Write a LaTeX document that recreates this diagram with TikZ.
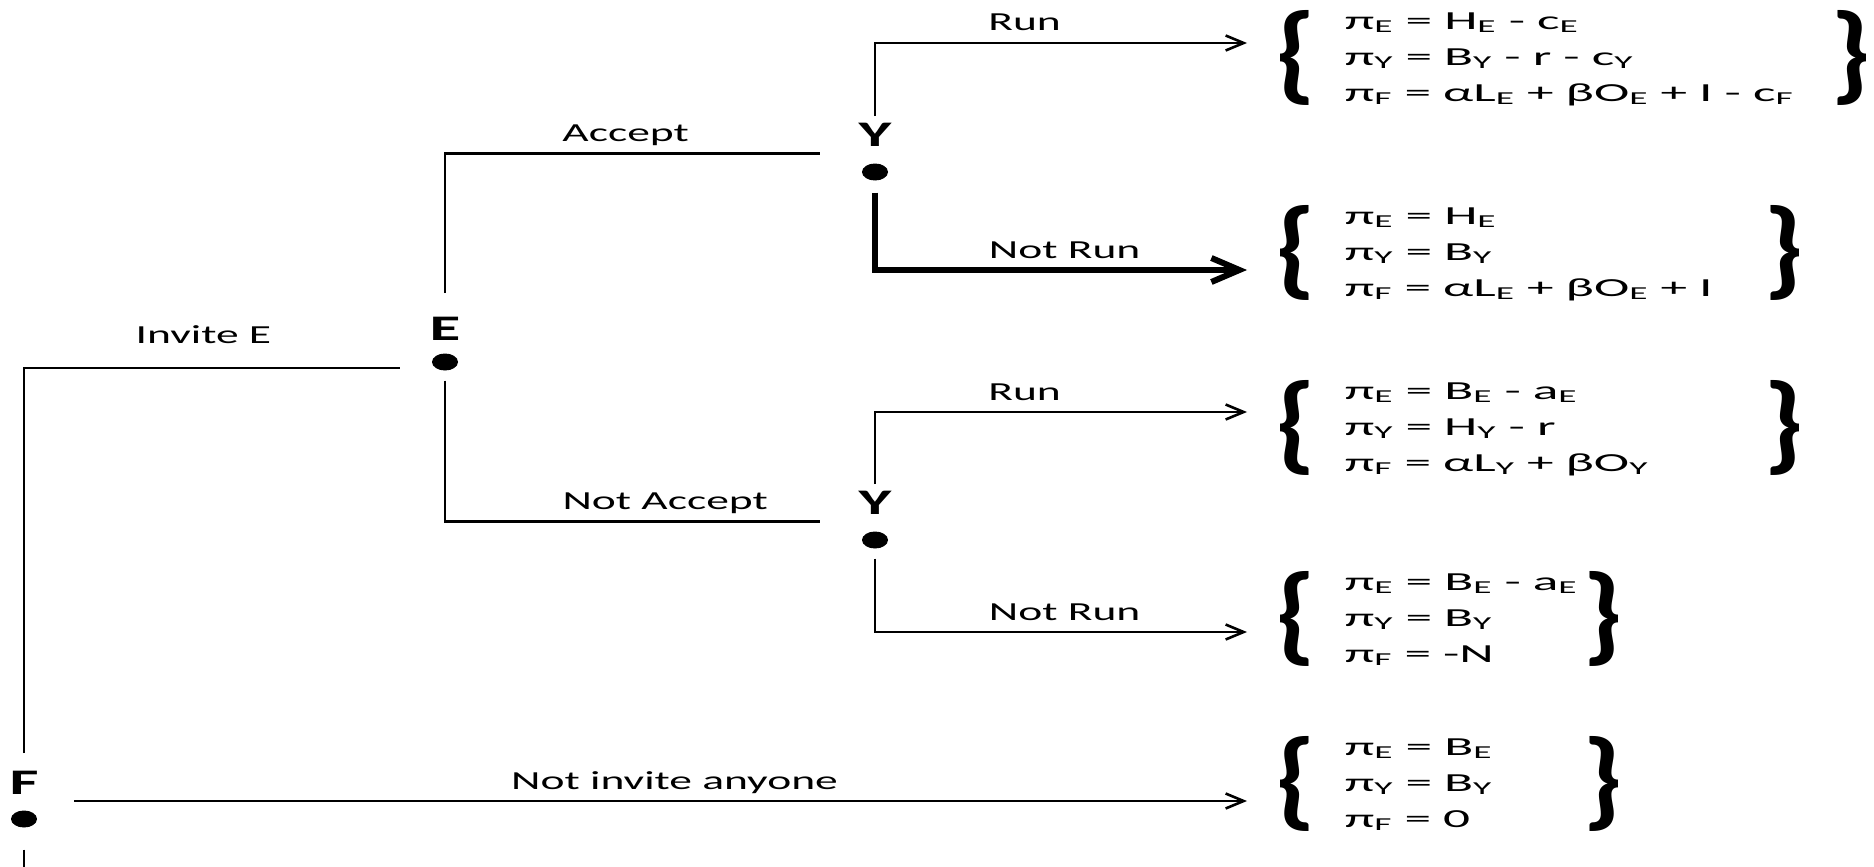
\documentclass[tikz,border=0pt]{standalone}
\usepackage{fontspec}
\usepackage{graphicx}
\setmainfont{Carlito}
\usetikzlibrary{
  arrows.meta,
  shapes.geometric,
  calc
}
\newcommand{\hs}[1]{\scalebox{1.75}[1]{#1}}
\newcommand{\ssc}[1]{\textsubscript{#1}}
\newcommand{\brc}[1]{\vcenter{\hbox{\resizebox*{20pt}{95pt}{\bfseries#1}}}}
\newcommand{\payoff}[4]{\scalebox{2.05}[1]{$\brc{\{}\begin{tabular}{@{\hspace{14pt}}p{#1}@{}}#2\\#3\\#4\end{tabular}\brc{\}}$}}

\begin{document}
\begin{tikzpicture}[x=1pt, y=-1pt,
    every node/.style = {inner sep=0pt},
    player/.style = {font=\fontsize{36}{40}\selectfont\bfseries},
    dot/.style = {ellipse, fill, minimum width=26pt, minimum height=17pt},
    pay/.style = {anchor=west, font=\fontsize{26}{36}\selectfont},
    lbl/.style = {anchor=base, yshift=12pt, font=\fontsize{26}{30}\selectfont},
    edge/.style = {line width=2.6pt},
    arr/.style = {edge, -{Straight Barb[length=18pt, width=15pt]}},
    bold arr/.style = {line width=6pt, -{Straight Barb[length=28pt, width=24pt]}}]
  \useasboundingbox (0,0) rectangle (1874,867);

  % players
  \node[player] (F) at (24,783) {\hs{F}};
  \node[dot] (dF) at (24,819) {};
  \node[player] (E) at (445,329) {\hs{E}};
  \node[dot] (dE) at (445,362) {};
  \node[player] (Ya) at (875,135) {\hs{Y}};
  \node[dot] (dYa) at (875,172) {};
  \node[player] (Yn) at (875,503) {\hs{Y}};
  \node[dot] (dYn) at (875,540) {};
  \coordinate (cF) at ($(F)!.5!(dF)$);
  \coordinate (tail) at (24,867);

  % payoffs
  \node[pay] (pAR) at (1275,58) {\payoff{237pt}
    {π\ssc{E} = H\ssc{E} - c\ssc{E}}
    {π\ssc{Y} = B\ssc{Y} - r - c\ssc{Y}}
    {π\ssc{F} = αL\ssc{E} + βO\ssc{E} + I - c\ssc{F}}};
  \node[pay] (pAN) at (1275,253) {\payoff{204pt}
    {π\ssc{E} = H\ssc{E}}
    {π\ssc{Y} = B\ssc{Y}}
    {π\ssc{F} = αL\ssc{E} + βO\ssc{E} + I}};
  \node[pay] (pNR) at (1275,428) {\payoff{204pt}
    {π\ssc{E} = B\ssc{E} - a\ssc{E}}
    {π\ssc{Y} = H\ssc{Y} - r}
    {π\ssc{F} = αL\ssc{Y} + βO\ssc{Y}}};
  \node[pay] (pNN) at (1275,619) {\payoff{116pt}
    {π\ssc{E} = B\ssc{E} - a\ssc{E}}
    {π\ssc{Y} = B\ssc{Y}}
    {π\ssc{F} = -N}};
  \node[pay] (pNo) at (1275,784) {\payoff{116pt}
    {π\ssc{E} = B\ssc{E}}
    {π\ssc{Y} = B\ssc{Y}}
    {π\ssc{F} = 0}};

  % moves
  \draw[edge, shorten <=18pt, shorten >=32pt] (F.north) |- node[lbl, pos=.72, yshift=13pt] {\hs{Invite E}} ([yshift=-6pt]dE.west);
  \draw[arr, shorten <=50pt, shorten >=28pt] (cF) -- node[lbl, pos=.52] {\hs{Not invite anyone}} (cF -| pNo.west);
  \draw[edge, shorten <=22pt] (dF.south) -- (tail);
  \draw[edge, shorten <=24pt, shorten >=55pt] (E.north) |- node[lbl, pos=.71] {\hs{Accept}} ($(Ya)!.5!(dYa)$);
  \draw[edge, shorten <=10pt, shorten >=55pt] (dE.south) |- node[lbl, pos=.756] {\hs{Not Accept}} ($(Yn)!.5!(dYn)$);
  \draw[arr, shorten <=7pt, shorten >=28pt] (Ya.north) |- node[lbl, pos=.687] {\hs{Run}} ([yshift=15pt]pAR.west);
  \draw[bold arr, shorten <=12pt, shorten >=28pt] (dYa.south) |- node[lbl, pos=.737] {\hs{Not Run}} ([yshift=-17pt]pAN.west);
  \draw[arr, shorten <=7pt, shorten >=28pt] (Yn.north) |- node[lbl, pos=.687] {\hs{Run}} ([yshift=16pt]pNR.west);
  \draw[arr, shorten <=10pt, shorten >=28pt] (dYn.south) |- node[lbl, pos=.737] {\hs{Not Run}} ([yshift=-13pt]pNN.west);
\end{tikzpicture}
\end{document}
